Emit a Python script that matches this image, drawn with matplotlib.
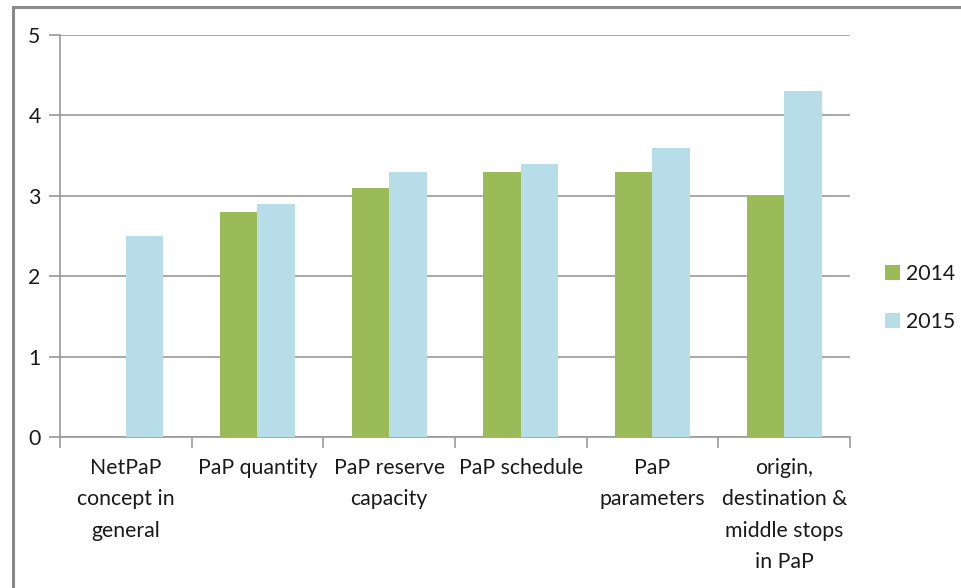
import numpy as np
import matplotlib.pyplot as plt
from matplotlib.patches import Rectangle

categories = ["NetPaP\nconcept in\ngeneral", "PaP quantity", "PaP reserve\ncapacity",
              "PaP schedule", "PaP\nparameters", "origin,\ndestination &\nmiddle stops\nin PaP"]
values_2014 = [np.nan, 2.8, 3.1, 3.3, 3.3, 3.0]
values_2015 = [2.5, 2.9, 3.3, 3.4, 3.6, 4.3]
y_ticks = [0, 1, 2, 3, 4, 5]

plt.rcParams['font.family'] = ['Lato', 'DejaVu Sans']
grey = '#9a9a9a'
fs = 15.3

fig = plt.figure(figsize=(9.61, 5.88), dpi=100)
ax = fig.add_axes([60 / 961, 1 - 437 / 588, 790 / 961, 402 / 588])

x = np.arange(len(categories))
w = 0.285
ax.bar(x - w / 2, values_2014, w, color='#9bbb59', label='2014', zorder=3)
ax.bar(x + w / 2, values_2015, w, color='#b7dee8', label='2015', zorder=3)

ax.set_xlim(-0.5, len(categories) - 0.5)
ax.set_ylim(0, 5)
ax.set_yticks(y_ticks)
ax.set_yticklabels([str(t) for t in y_ticks])
ax.yaxis.grid(True, color=grey, linewidth=1.2, zorder=0)

ax.set_xticks(x)
ax.set_xticklabels(categories, linespacing=1.72, va='top')
ax.set_xticks(np.arange(-0.5, len(categories)), minor=True)
ax.tick_params(axis='x', which='major', length=0, pad=15, labelsize=fs, colors='#1a1a1a')
ax.tick_params(axis='x', which='minor', length=8, width=1.2, color=grey, direction='out')
ax.tick_params(axis='y', length=8, width=1.2, color=grey, pad=6, labelsize=fs,
               labelcolor='#1a1a1a')

for s in ['top', 'right']:
    ax.spines[s].set_visible(False)
for s in ['left', 'bottom']:
    ax.spines[s].set_color(grey)
    ax.spines[s].set_linewidth(1.2)

leg = ax.legend(loc='center left', bbox_to_anchor=(1.02, 0.346), frameon=False, fontsize=fs,
                handlelength=0.7, handleheight=0.7, handletextpad=0.3, labelspacing=1.3)
for t in leg.get_texts():
    t.set_color('#1a1a1a')

# outer frame of the chart area
fig.patches.append(Rectangle((13 / 961, -0.1), 1.1, 1 - 7 / 588 + 0.1, transform=fig.transFigure,
                             fill=False, edgecolor='#8a8a8a', linewidth=2.2))

fig.savefig('out.png', dpi=100)
